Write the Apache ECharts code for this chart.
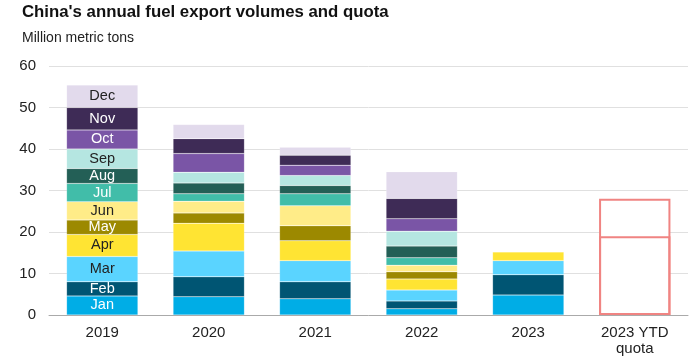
<!DOCTYPE html>
<html><head><meta charset="utf-8">
<script src="https://cdn.jsdelivr.net/npm/echarts@6/dist/echarts.min.js"></script>
<style>html,body{margin:0;padding:0;background:#fff}#c{width:700px;height:360px}</style>
</head><body><div id="c"></div>
<script>
var categories = ['2019', '2020', '2021', '2022', '2023', '2023 YTD\nquota'];
var months = ['Jan','Feb','Mar','Apr','May','Jun','Jul','Aug','Sep','Oct','Nov','Dec'];
var jan = [4.6, 4.4, 3.9, 1.5, 4.8];
var feb = [3.4, 4.8, 4.1, 1.9, 4.9];
var mar = [6.1, 6.2, 5.1, 2.6, 3.4];
var apr = [5.3, 6.7, 4.8, 2.7, 2.1];
var may = [3.5, 2.5, 3.6, 1.7];
var jun = [4.4, 2.8, 4.8, 1.6];
var jul = [4.4, 1.8, 2.9, 1.8];
var aug = [3.6, 2.6, 2.0, 2.8];
var sep = [4.7, 2.6, 2.4, 3.6];
var oct = [4.6, 4.5, 2.5, 3.0];
var nov = [5.4, 3.6, 2.4, 4.9];
var dec = [5.4, 3.4, 1.9, 6.4];
var quotaBatch1 = 19.0;
var quotaBatch2 = 9.0;
var yTicks = [0, 10, 20, 30, 40, 50, 60];

var FONT = 'Liberation Sans, Arial, sans-serif';
var monthData = [jan, feb, mar, apr, may, jun, jul, aug, sep, oct, nov, dec];
var colors = ['#00ADE6','#005573','#5AD4FF','#FFE433','#9C8900','#FFEC88','#41BDA9','#235F56','#B5E6E1','#7A55A6','#3E2B56','#E2DAEC'];
var textColors = ['#fff','#fff','#222','#222','#fff','#222','#fff','#fff','#222','#fff','#fff','#222'];

var series = [];
monthData.forEach(function (arr, i) {
  var d = [];
  for (var k = 0; k < categories.length; k++) d.push(k < arr.length ? arr[k] : '-');
  series.push({
    name: months[i], type: 'bar', stack: 'a', barWidth: '67%', barGap: '-100%',
    data: d,
    itemStyle: { color: colors[i], borderColor: 'rgba(255,255,255,0.35)', borderWidth: 0.5 },
    label: {
      show: true, position: 'inside', color: textColors[i], fontSize: 14.5,
      fontFamily: FONT,
      formatter: function (p) { return p.dataIndex === 0 ? p.seriesName : ''; }
    },
    emphasis: { disabled: true }, animation: false
  });
});
// quota: total outline box plus first-batch outline box, overlaid
var quotaTotal = quotaBatch1 + quotaBatch2;
[quotaTotal, quotaBatch1].forEach(function (v, i) {
  var d = [];
  for (var k = 0; k < categories.length; k++) d.push(k === categories.length - 1 ? v : '-');
  series.push({
    name: 'Quota ' + (i + 1), type: 'bar', stack: 'q' + i, barWidth: '67%', barGap: '-100%',
    data: d,
    itemStyle: { color: i === 0 ? '#fff' : 'rgba(255,255,255,0)', borderColor: '#F08482', borderWidth: 2 },
    emphasis: { disabled: true }, animation: false, z: 3 + i
  });
});

var chart = echarts.init(document.getElementById('c'), null, { renderer: 'canvas' });
chart.setOption({
  animation: false,
  textStyle: { fontFamily: FONT },
  title: [
    { text: "China's annual fuel export volumes and quota", left: 22, top: 4, padding: 0,
      textStyle: { fontSize: 16.8, fontWeight: 'bold', color: '#111', fontFamily: FONT } },
    { text: 'Million metric tons', left: 22, top: 31, padding: 0,
      textStyle: { fontSize: 14, fontWeight: 'normal', color: '#222', fontFamily: FONT } }
  ],
  grid: { left: 49, right: 12, top: 66, bottom: 45, containLabel: false },
  xAxis: {
    type: 'category', data: categories,
    axisLine: { lineStyle: { color: '#aaa', width: 1 } },
    axisTick: { show: false },
    axisLabel: { color: '#222', fontSize: 15, margin: 10, lineHeight: 16 }
  },
  yAxis: {
    type: 'value', min: yTicks[0], max: yTicks[yTicks.length - 1], interval: 10,
    axisLine: { show: false }, axisTick: { show: false },
    axisLabel: { color: '#222', fontSize: 15, margin: 13 },
    splitLine: { lineStyle: { color: '#e0e0e0', width: 1 } }
  },
  series: series
});
</script></body></html>
